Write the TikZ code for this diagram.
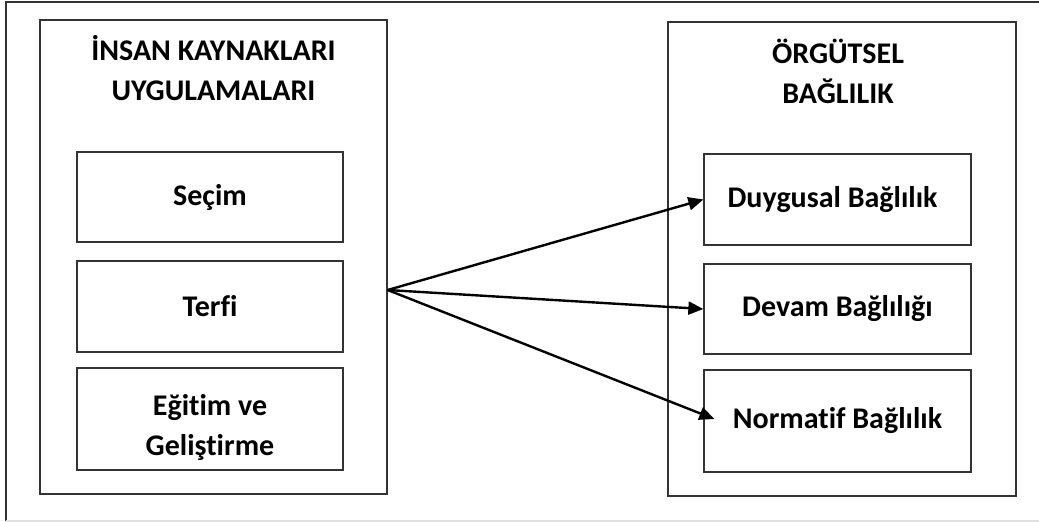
\documentclass[tikz,border=0pt]{standalone}
\usepackage{fontspec}
\setmainfont{Carlito}[Ligatures=NoCommon]
\usetikzlibrary{arrows.meta,calc}
\begin{document}
\begin{tikzpicture}[x=1pt,y=-1pt,
  frame/.style={draw=black!80,line width=1.3pt},
  bigbox/.style={draw=black!80,line width=1.3pt,inner sep=0pt},
  item/.style={draw=black!80,line width=1.3pt,inner sep=0pt,align=center,
    font=\fontsize{30}{40}\selectfont\bfseries},
  title/.style={align=center,inner sep=0pt,font=\fontsize{30}{40}\selectfont\bfseries},
  link/.style={line width=2.4pt,-{Triangle[length=15pt,width=13pt]}}]
\useasboundingbox (0,0) rectangle (1039,522);
% outer frame
\draw[frame] (1039,2) -- (6,2) -- (6,521);
\draw[draw=black!12,line width=1.3pt] (6,521) -- (1039,521);
% big boxes
\node[bigbox,minimum width=347pt,minimum height=474pt] (hr) at (213.5,257) {};
\node[bigbox,minimum width=348pt,minimum height=474pt] (ob) at (842,259) {};
% titles
\node[title] (hrt) at (213.5,68) {İNSAN KAYNAKLARI\\UYGULAMALARI};
\node[title] (obt) at (838,71) {ÖRGÜTSEL\\BAĞLILIK};
% left items
\node[item,minimum width=266pt,minimum height=90pt] (sec) at (210,197) {Seçim};
\node[item,minimum width=266pt,minimum height=91pt] (ter) at (210,306.5) {Terfi};
\node[item,minimum width=266pt,minimum height=102pt] (egi) at (210,419) {};
\node[title] (egit) at ($(egi.center)+(0,8)$) {Eğitim ve\\Geliştirme};
% right items
\node[item,minimum width=267pt,minimum height=91pt] (duy) at (837.5,199.5) {Duygusal Bağlılık\hspace{10pt}};
\node[item,minimum width=267pt,minimum height=90pt] (dev) at (837.5,309) {Devam Bağlılığı};
\node[item,minimum width=267pt,minimum height=102pt] (nor) at (837.5,421) {Normatif Bağlılık};
% connectors
\coordinate (src) at (hr.east |- 0,290);
\coordinate (nortip) at ($(nor.west)+(11,-2)$);
\draw[link] (src) -- (duy.west);
\draw[link] (src) -- (dev.west);
\draw[link] (src) -- (nortip);
\end{tikzpicture}
\end{document}
